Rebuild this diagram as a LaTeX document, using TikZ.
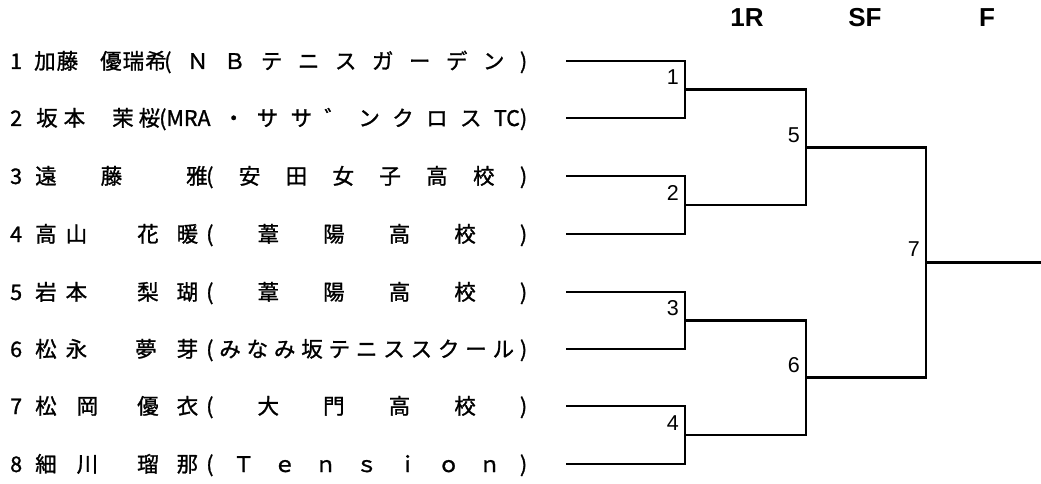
\documentclass[tikz,border=0pt]{standalone}
\usepackage{fontspec}
\newfontfamily\jpfont[FakeBold=1.2]{Noto Sans CJK JP}
\newfontfamily\hdfont{Liberation Sans}
\usetikzlibrary{calc}

\tikzset{
  bk/.style={line width=2.8pt},
  pname/.style={font=\jpfont\fontsize{21.5}{21.5}\selectfont, inner sep=0pt, anchor=base west},
  rnd/.style={font=\hdfont\bfseries\fontsize{26}{26}\selectfont, inner sep=0pt, anchor=base},
  game/.style={font=\hdfont\fontsize{21.5}{21.5}\selectfont, inner sep=0pt, anchor=base east},
}
\newcommand{\clubbox}[2]{\makebox[#1pt][s]{#2}}

\begin{document}
\begin{tikzpicture}[x=1pt,y=-1pt]
    		\useasboundingbox (0,0) rectangle (1041,484);
    		\coordinate(p1) at (566,61);
    		\coordinate(p2) at (566,118);
    		\coordinate(p3) at (566,176);
    		\coordinate(p4) at (566,234);
    		\coordinate(p5) at (566,292);
    		\coordinate(p6) at (566,349);
    		\coordinate(p7) at (566,406);
    		\coordinate(p8) at (566,464);
    		\coordinate(r1) at ($(p1)!0.5!(p2)+(119,0)$);
    		\coordinate(r2) at ($(p3)!0.5!(p4)+(119,0)$);
    		\coordinate(r3) at ($(p5)!0.5!(p6)+(119,0)$);
    		\coordinate(r4) at ($(p7)!0.5!(p8)+(119,0)$);
    		\coordinate(s1) at ($(r1)!0.5!(r2)+(121,0)$);
    		\coordinate(s2) at ($(r3)!0.5!(r4)+(121,0)$);
    		\coordinate(f1) at ($(s1)!0.5!(s2)+(120,0)$);
    		\coordinate(win) at ($(f1)+(115,0)$);
    		
    		% round titles
    		\node[rnd] (hR) at (747,27) {1R};
    		\node[rnd] (hSF) at (865,27) {SF};
    		\node[rnd] (hF) at (987,27) {F};
    		
    		% players
    		\node[pname] (num1) at (10,69) {1};
    		\node[pname] (nm1) at (34,69) {加\hspace{1pt}藤\hspace{22pt}優\hspace{1pt}瑞\hspace{1pt}希};
    		\node[pname] (cl1) at (164,69) {\clubbox{363}{(\hfill Ｎ\hfill Ｂ\hfill テ\hfill ニ\hfill ス\hfill ガ\hfill ー\hfill デ\hfill ン\hfill )}};
    		\node[pname] (num2) at (10,126) {2};
    		\node[pname] (nm2) at (36,126) {坂\hspace{6pt}本\hspace{27pt}茉\hspace{5pt}桜};
    		\node[pname] (cl2) at (159,126) {\clubbox{368}{(MRA\hfill ・\hfill サ\hfill サ\hfill ゛\hfill ン\hfill ク\hfill ロ\hfill ス\hfill TC)}};
    		\node[pname] (num3) at (10,184) {3};
    		\node[pname] (nm3) at (35,184) {遠\hspace{44pt}藤\hspace{64pt}雅};
    		\node[pname] (cl3) at (206,184) {\clubbox{321}{(\hfill 安\hfill 田\hfill 女\hfill 子\hfill 高\hfill 校\hfill )}};
    		\node[pname] (num4) at (10,242) {4};
    		\node[pname] (nm4) at (35,242) {高\hspace{9pt}山\hspace{50pt}花\hspace{18pt}暖};
    		\node[pname] (cl4) at (206,242) {\clubbox{321}{(\hfill 葦\hfill 陽\hfill 高\hfill 校\hfill )}};
    		\node[pname] (num5) at (10,300) {5};
    		\node[pname] (nm5) at (35,300) {岩\hspace{9pt}本\hspace{50pt}梨\hspace{18pt}瑚};
    		\node[pname] (cl5) at (206,300) {\clubbox{321}{(\hfill 葦\hfill 陽\hfill 高\hfill 校\hfill )}};
    		\node[pname] (num6) at (10,357) {6};
    		\node[pname] (nm6) at (35,357) {松\hspace{9pt}永\hspace{48pt}夢\hspace{20pt}芽};
    		\node[pname] (cl6) at (206,357) {\clubbox{321}{(\hfill み\hfill な\hfill み\hfill 坂\hfill テ\hfill ニ\hfill ス\hfill ス\hfill ク\hfill ー\hfill ル\hfill )}};
    		\node[pname] (num7) at (10,414) {7};
    		\node[pname] (nm7) at (35,414) {松\hspace{20pt}岡\hspace{39pt}優\hspace{18pt}衣};
    		\node[pname] (cl7) at (206,414) {\clubbox{321}{(\hfill 大\hfill 門\hfill 高\hfill 校\hfill )}};
    		\node[pname] (num8) at (10,472) {8};
    		\node[pname] (nm8) at (35,472) {細\hspace{20pt}川\hspace{39pt}瑠\hspace{18pt}那};
    		\node[pname] (cl8) at (206,472) {\clubbox{321}{(\hfill Ｔ\hfill ｅ\hfill ｎ\hfill ｓ\hfill ｉ\hfill ｏ\hfill ｎ\hfill )}};
    		
    		% bracket
    		\draw[bk] (p1) -| (r1) |- (p2);
    		\draw[bk] (p3) -| (r2) |- (p4);
    		\draw[bk] (p5) -| (r3) |- (p6);
    		\draw[bk] (p7) -| (r4) |- (p8);
    		\draw[bk] (r1) -| (s1) |- (r2);
    		\draw[bk] (r3) -| (s2) |- (r4);
    		\draw[bk] (s1) -| (f1) |- (s2);
    		\draw[bk] (f1) -- (win);
    		
    		% match numbers
    		\node[game] (g1) at ($(r1)+(-6,-5)$) {1};
    		\node[game] (g2) at ($(r2)+(-6,-5)$) {2};
    		\node[game] (g3) at ($(r3)+(-6,-5)$) {3};
    		\node[game] (g4) at ($(r4)+(-6,-5)$) {4};
    		\node[game] (g5) at ($(s1)+(-6,-5)$) {5};
    		\node[game] (g6) at ($(s2)+(-6,-5)$) {6};
    		\node[game] (g7) at ($(f1)+(-6,-6)$) {7};
    	\end{tikzpicture}
\end{document}
